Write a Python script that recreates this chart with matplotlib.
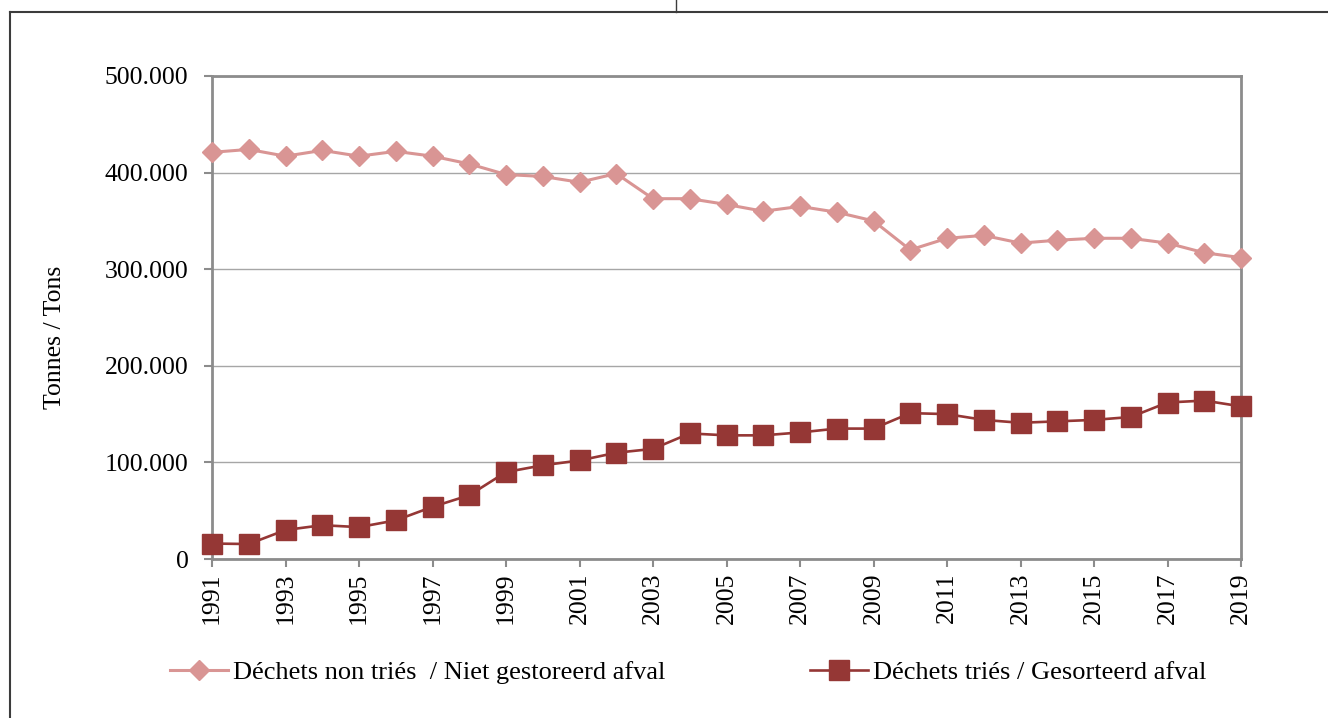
import matplotlib
matplotlib.use("Agg")
import matplotlib.pyplot as plt
from matplotlib.lines import Line2D
from matplotlib.ticker import FuncFormatter, FixedLocator

years = list(range(1991, 2020))
non_tries = [421000, 424000, 417000, 423000, 417000, 422000, 417000, 409000, 398000, 396000,
             390000, 399000, 373000, 373000, 367000, 360000, 365000, 359000, 350000, 320000,
             332000, 335000, 327000, 330000, 332000, 332000, 327000, 317000, 312000]
tries = [16000, 15500, 30000, 35000, 33000, 40000, 54000, 66000, 90000, 97000,
         102000, 110000, 114000, 130000, 128000, 128000, 131000, 135000, 135000, 151000,
         150000, 144000, 141000, 142500, 144000, 147000, 162000, 164000, 158000]
label_non = "Déchets non triés  / Niet gestoreerd afval"
label_tri = "Déchets triés / Gesorteerd afval"
ylabel = "Tonnes / Tons"
yticks = [0, 100000, 200000, 300000, 400000, 500000]
xtick_years = list(range(1991, 2020, 2))

plt.rcParams['font.family'] = ['Liberation Serif', 'DejaVu Serif']
FS = 18.5
FS_LEG = 19

W, H = 1328, 718
fig = plt.figure(figsize=(W / 100, H / 100), dpi=100)
ax = fig.add_axes([212 / W, 1 - 559 / H, (1241 - 212) / W, (559 - 76) / H])

c_pink = '#D99594'
c_red = '#953735'
grid_c = '#A6A6A6'
spine_c = '#8C8C8C'

ax.plot(years, non_tries, color=c_pink, lw=2.2, marker='D', ms=10.5, mec=c_pink, mfc=c_pink,
        label=label_non, zorder=3, clip_on=False)
ax.plot(years, tries, color=c_red, lw=1.9, marker='s', ms=14.5, mec=c_red, mfc=c_red,
        label=label_tri, zorder=3, clip_on=False)

ax.set_xlim(1991, 2019)
ax.set_ylim(0, 500000)
ax.yaxis.set_major_locator(FixedLocator(yticks))
ax.xaxis.set_major_locator(FixedLocator(xtick_years))
ax.yaxis.set_major_formatter(FuncFormatter(lambda v, p: "0" if v == 0 else f"{int(v):,}".replace(",", ".")))
ax.grid(axis='y', color=grid_c, lw=1.0, zorder=0)
for s in ax.spines.values():
    s.set_color(spine_c)
    s.set_linewidth(2.0)
ax.tick_params(axis='both', colors=spine_c, width=1.5, length=6, direction='out',
               labelcolor='black', labelsize=FS)
ax.tick_params(axis='x', labelrotation=90, pad=4)
ax.tick_params(axis='y', pad=11)

fig.text(55 / W, 1 - 337 / H, ylabel, rotation=90, ha='center', va='center', fontsize=FS)

handles = [Line2D([], [], color=c_pink, lw=2.2, marker='D', ms=10.5, mfc=c_pink, mec=c_pink),
           Line2D([], [], color=c_red, lw=1.9, marker='s', ms=14.5, mfc=c_red, mec=c_red)]
fig.legend(handles, [label_non, label_tri], loc='center left', bbox_to_anchor=(170 / W, 1 - 672 / H),
           ncol=2, frameon=False, fontsize=FS_LEG, handlelength=2.2, handletextpad=0.17,
           columnspacing=5.5, borderpad=0, borderaxespad=0)

# page borders
fig.add_artist(Line2D([9.5 / W, 9.5 / W], [0, 1 - 12 / H], transform=fig.transFigure, color='#3C3C3C', lw=1.5))
fig.add_artist(Line2D([9.5 / W, 1], [1 - 12 / H, 1 - 12 / H], transform=fig.transFigure, color='#3C3C3C', lw=1.5))
fig.add_artist(Line2D([676 / W, 676 / W], [1 - 12 / H, 1], transform=fig.transFigure, color='#3C3C3C', lw=1.0))

fig.savefig("out.png", dpi=100, facecolor='white')
